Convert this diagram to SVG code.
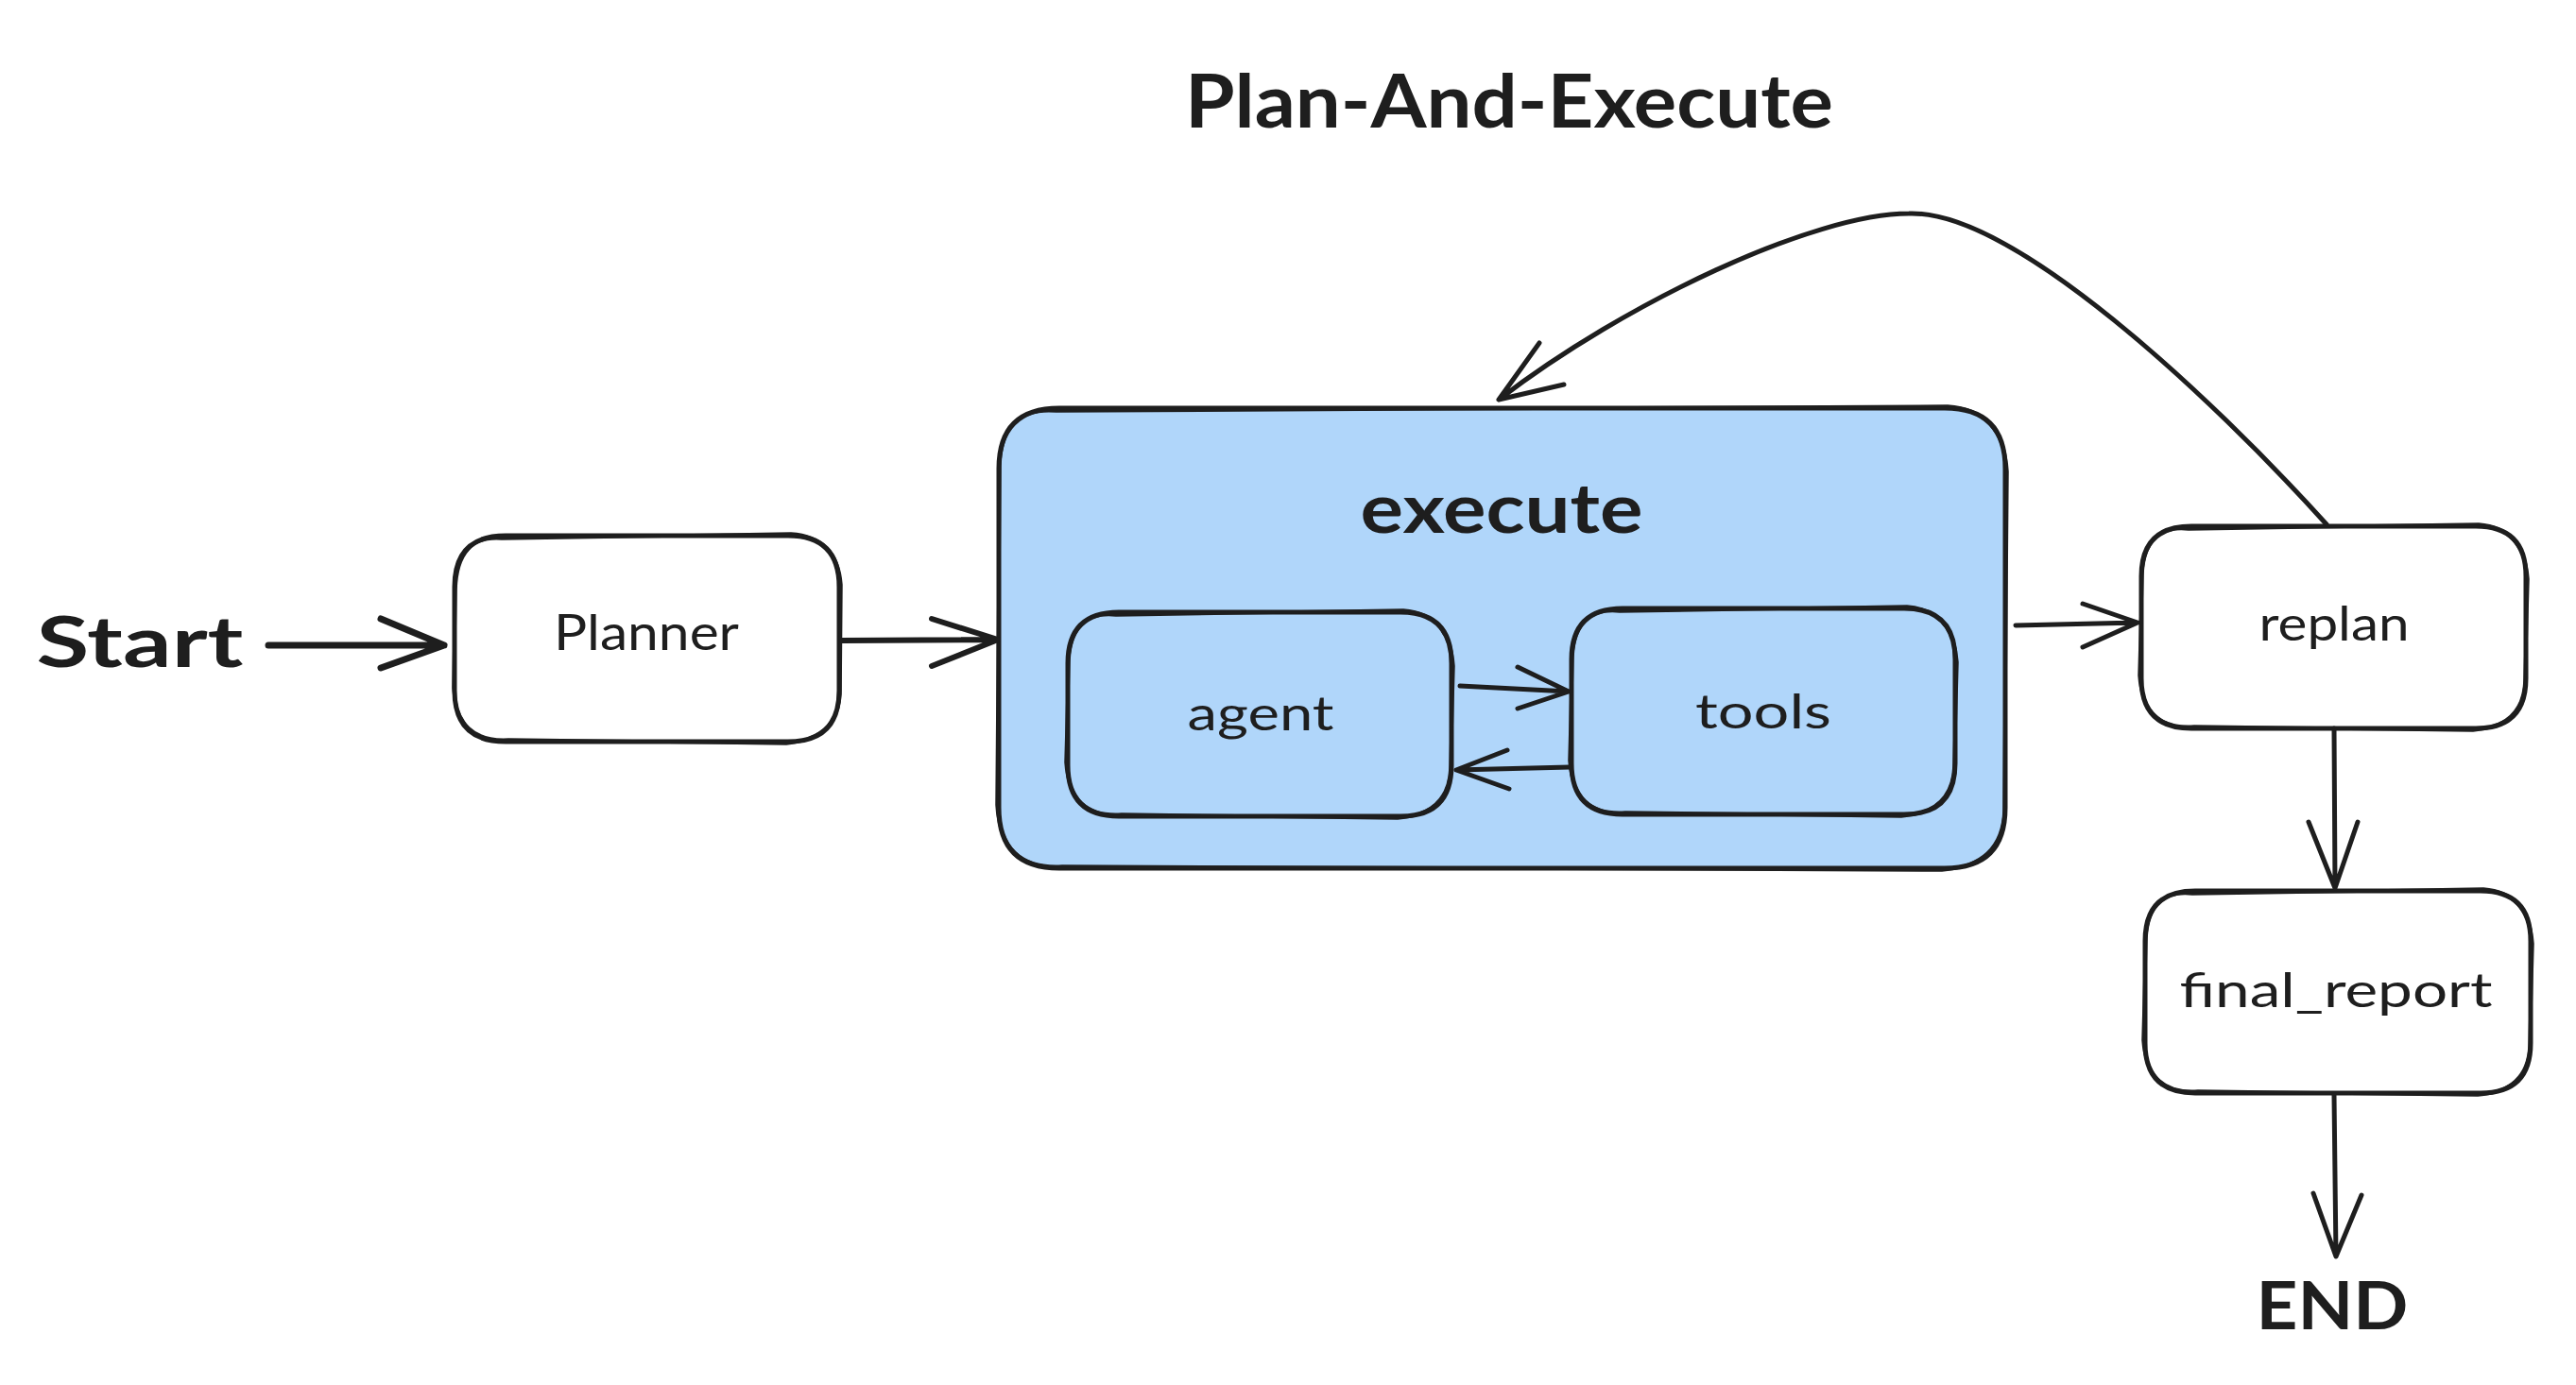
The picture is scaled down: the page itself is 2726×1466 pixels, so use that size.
<svg xmlns="http://www.w3.org/2000/svg" width="2726" height="1466" viewBox="0 0 2726 1466">
<style>
.bg{fill:#ffffff}
.box{fill:#ffffff;stroke:#1e1e1e;stroke-width:5;stroke-linejoin:round;stroke-linecap:round}
.boxb{fill:none;stroke:#1e1e1e;stroke-width:3.5;stroke-linejoin:round;stroke-linecap:round}
.blue{fill:#b0d6fa}
.edge{fill:none;stroke:#1e1e1e;stroke-width:5;stroke-linecap:round;stroke-linejoin:round}
.thick{stroke-width:7}
.lbl{font-family:Lato,"Liberation Sans",sans-serif;fill:#1e1e1e;text-anchor:middle}
.big{font-weight:700}
</style>
<rect class="bg" x="0" y="0" width="2726" height="1466"/>

<text class="lbl big" x="1597" y="135" font-size="78" textLength="686" lengthAdjust="spacingAndGlyphs">Plan-And-Execute</text>

<g id="start"><text class="lbl big" x="148" y="706" font-size="75" textLength="219" lengthAdjust="spacingAndGlyphs">Start</text></g>

<g id="planner">
<path class="box" d="M535,567 L834,567 Q888,567 888,621 L888,731 Q888,785 834,785 L535,785 Q481,785 481,731 L481,621 Q481,567 535,567 Z"/>
<path class="boxb" d="M531,570 L837,565 Q886,568 890,619 L889,735 Q886,782 832,787 L538,783 Q483,786 480,728 L482,624 Q484,566 531,570"/>
<text class="lbl" x="684" y="688" font-size="52" textLength="196" lengthAdjust="spacingAndGlyphs">Planner</text>
</g>

<g id="execute">
<path class="box blue" d="M1121,432 L2058,432 Q2122,432 2122,496 L2122,855 Q2122,919 2058,919 L1121,919 Q1057,919 1057,855 L1057,496 Q1057,432 1121,432 Z"/>
<path class="boxb" d="M1118,435 L2061,430 Q2120,434 2124,499 L2121,858 Q2119,916 2055,921 L1124,917 Q1059,921 1055,852 L1058,493 Q1060,430 1118,435"/>
<text class="lbl big" x="1589" y="564" font-size="72" textLength="299" lengthAdjust="spacingAndGlyphs">execute</text>
</g>

<g id="agent">
<path class="box blue" d="M1184,648 L1482,648 Q1536,648 1536,702 L1536,810 Q1536,864 1482,864 L1184,864 Q1130,864 1130,810 L1130,702 Q1130,648 1184,648 Z"/>
<path class="boxb" d="M1181,651 L1485,646 Q1534,650 1538,705 L1535,813 Q1533,862 1479,866 L1187,862 Q1132,866 1128,807 L1131,699 Q1134,646 1181,651"/>
<text class="lbl" x="1334" y="773" font-size="50" textLength="155" lengthAdjust="spacingAndGlyphs">agent</text>
</g>

<g id="tools">
<path class="box blue" d="M1717,644 L2015,644 Q2069,644 2069,698 L2069,808 Q2069,862 2015,862 L1717,862 Q1663,862 1663,808 L1663,698 Q1663,644 1717,644 Z"/>
<path class="boxb" d="M1714,647 L2018,642 Q2067,646 2071,701 L2068,811 Q2066,860 2012,864 L1720,860 Q1665,864 1661,805 L1664,695 Q1667,642 1714,647"/>
<text class="lbl" x="1866" y="771" font-size="50" textLength="144" lengthAdjust="spacingAndGlyphs">tools</text>
</g>

<g id="replan">
<path class="box" d="M2319,557 L2620,557 Q2673,557 2673,610 L2673,718 Q2673,771 2620,771 L2319,771 Q2266,771 2266,718 L2266,610 Q2266,557 2319,557 Z"/>
<path class="boxb" d="M2316,560 L2623,555 Q2671,559 2675,613 L2672,721 Q2670,769 2617,773 L2322,769 Q2268,773 2264,715 L2267,607 Q2270,555 2316,560"/>
<text class="lbl" x="2470" y="678" font-size="50" textLength="159" lengthAdjust="spacingAndGlyphs">replan</text>
</g>

<g id="final_report">
<path class="box" d="M2323,943 L2625,943 Q2678,943 2678,996 L2678,1104 Q2678,1157 2625,1157 L2323,1157 Q2270,1157 2270,1104 L2270,996 Q2270,943 2323,943 Z"/>
<path class="boxb" d="M2320,946 L2628,941 Q2676,945 2680,999 L2677,1107 Q2675,1155 2622,1159 L2326,1155 Q2272,1159 2268,1101 L2271,993 Q2274,941 2320,946"/>
<text class="lbl" x="2472" y="1066" font-size="50" textLength="331" lengthAdjust="spacingAndGlyphs">final_report</text>
</g>

<g id="end"><text class="lbl big" x="2468" y="1407" font-size="70" textLength="161" lengthAdjust="spacingAndGlyphs">END</text></g>

<g id="connectors">
<path class="edge thick" d="M284,683 L470,683 M403,655 L470,683 L403,707"/>
<path class="edge" style="stroke-width:6" d="M891,678 L1056,677 M986,655 L1056,677 L986,705"/>
<path class="edge" d="M1545,726 L1660,732 M1606,706 L1660,732 L1606,750"/>
<path class="edge" d="M1661,812 L1541,815 M1595,794 L1541,815 L1597,835"/>
<path class="edge" d="M2133,662 L2262,659 M2204,639 L2262,659 L2204,685"/>
<path class="edge" d="M2462,555 C2340,420 2130,222 2020,226 C1920,226 1720,320 1586,423 M1629,363 L1586,423 L1655,407"/>
<path class="edge" d="M2470,771 L2471,940 M2443,870 L2471,940 L2495,870"/>
<path class="edge" d="M2470,1159 L2472,1330 M2448,1263 L2472,1330 L2499,1265"/>
</g>
</svg>
